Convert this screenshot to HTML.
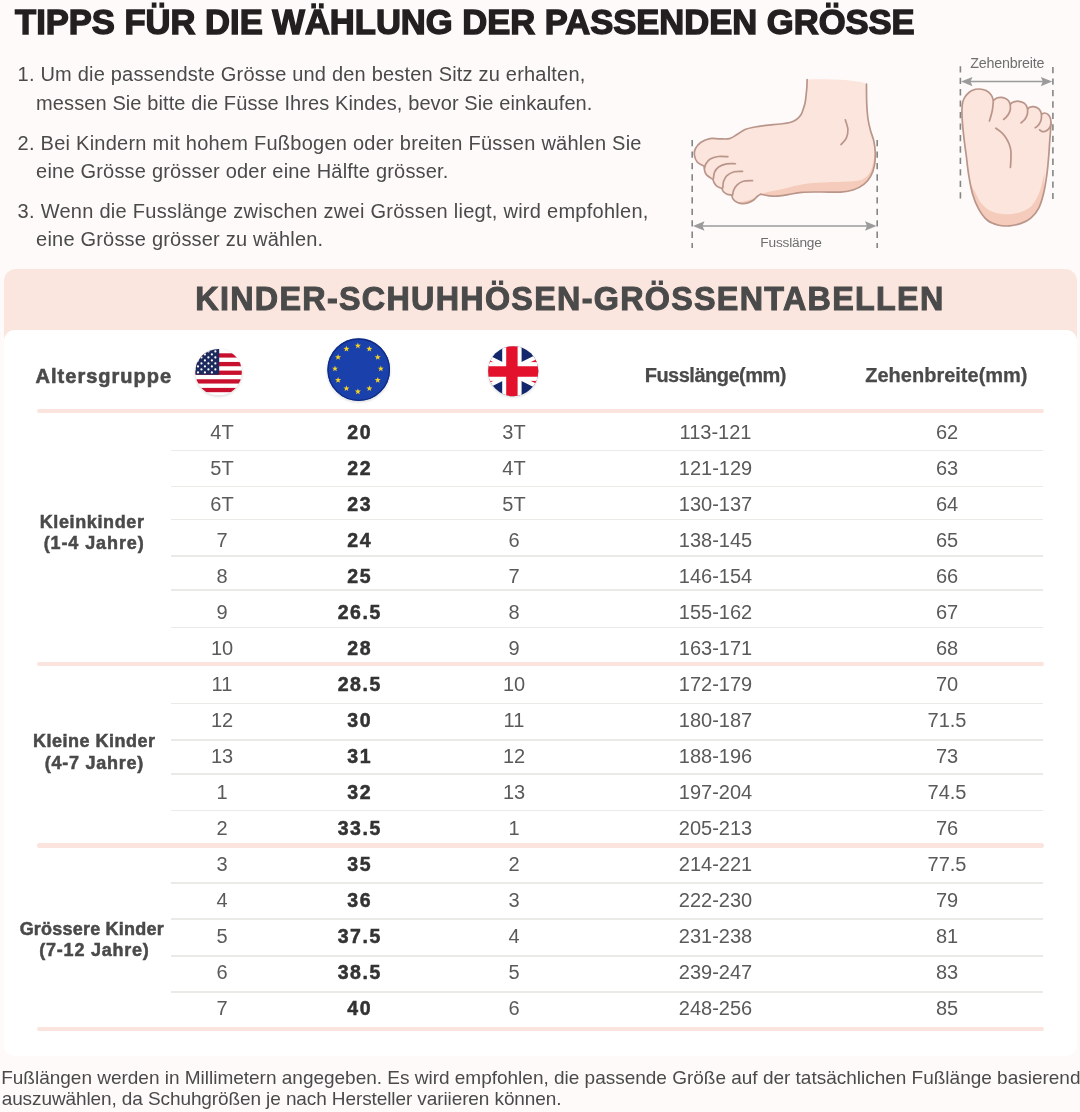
<!DOCTYPE html>
<html lang="de"><head><meta charset="utf-8"><title>Größentabelle</title>
<style>
html,body{margin:0;padding:0}
body{width:1080px;height:1112px;position:relative;overflow:hidden;background:#fdfaf9;font-family:"Liberation Sans",Arial,sans-serif}
.t{position:absolute;white-space:nowrap;line-height:1}
.band{position:absolute;left:4px;top:269px;width:1073px;height:90px;background:#fae6de;border-radius:12px 12px 0 0}
.card{position:absolute;left:4px;top:330px;width:1073px;height:726px;background:#fff;border-radius:11px 11px 10px 10px}
.sep{position:absolute;left:171px;width:872px;height:1.5px;background:#eaeae7}
.thk{position:absolute;left:37px;width:1007px;height:4.6px;background:#fbe4de;border-radius:3px}
svg{position:absolute;overflow:visible}
</style></head><body>
<div class="band"></div>
<div class="card"></div>
<div class="sep" style="top:449.65px"></div>
<div class="sep" style="top:485.55px"></div>
<div class="sep" style="top:518.55px"></div>
<div class="sep" style="top:555.05px"></div>
<div class="sep" style="top:589.05px"></div>
<div class="sep" style="top:626.55px"></div>
<div class="sep" style="top:702.75px"></div>
<div class="sep" style="top:739.45px"></div>
<div class="sep" style="top:773.05px"></div>
<div class="sep" style="top:809.55px"></div>
<div class="sep" style="top:882.15px"></div>
<div class="sep" style="top:918.45px"></div>
<div class="sep" style="top:955.25px"></div>
<div class="sep" style="top:991.05px"></div>
<div class="thk" style="top:408.75px"></div>
<div class="thk" style="top:661.55px"></div>
<div class="thk" style="top:843.35px"></div>
<div class="thk" style="top:1026.65px"></div>
<svg style="left:0;top:0" width="1080" height="270" viewBox="0 0 1080 270">
<defs><linearGradient id="ag" x1="0" y1="0" x2="0" y2="1"><stop offset="0" stop-color="#fdfaf9"/><stop offset="0.12" stop-color="#fbe5dc" stop-opacity="1"/></linearGradient><filter id="bl" x="-5%" y="-20%" width="110%" height="140%"><feGaussianBlur stdDeviation="0.6"/></filter></defs>
<path d="M807.10,79.60 C807.07,80.78 807.08,83.97 806.90,86.70 C806.72,89.43 806.32,93.23 806.00,96.00 C805.68,98.77 805.57,100.80 805.00,103.30 C804.43,105.80 803.30,109.05 802.60,111.00 C801.90,112.95 801.82,113.58 800.80,115.00 C799.78,116.42 798.30,118.25 796.50,119.50 C794.70,120.75 792.75,121.75 790.00,122.50 C787.25,123.25 784.00,123.52 780.00,124.00 C776.00,124.48 770.17,124.90 766.00,125.40 C761.83,125.90 758.50,126.32 755.00,127.00 C751.50,127.68 748.00,128.25 745.00,129.50 C742.00,130.75 739.58,132.98 737.00,134.50 C734.42,136.02 732.33,137.87 729.50,138.60 C726.67,139.33 723.25,138.90 720.00,138.90 C716.75,138.90 713.17,138.03 710.00,138.60 C706.83,139.17 703.42,140.65 701.00,142.30 C698.58,143.95 696.60,146.38 695.50,148.50 C694.40,150.62 694.12,152.75 694.40,155.00 C694.68,157.25 695.57,160.13 697.20,162.00 C698.83,163.87 703.03,165.50 704.20,166.20 C704.27,166.92 704.17,169.00 704.60,170.50 C705.03,172.00 705.42,173.72 706.80,175.20 C708.18,176.68 711.88,178.70 712.90,179.40 C713.18,180.08 713.83,182.30 714.60,183.50 C715.37,184.70 716.32,185.80 717.50,186.60 C718.68,187.40 721.00,188.02 721.70,188.30 C722.00,188.88 722.62,190.82 723.50,191.80 C724.38,192.78 725.63,193.67 727.00,194.20 C728.37,194.73 730.92,194.87 731.70,195.00 C731.95,195.70 732.23,197.97 733.20,199.20 C734.17,200.43 735.90,201.67 737.50,202.40 C739.10,203.13 740.97,203.57 742.80,203.60 C744.63,203.63 746.63,203.23 748.50,202.60 C750.37,201.97 752.55,200.82 754.00,199.80 C755.45,198.78 756.12,197.43 757.20,196.50 C758.28,195.57 759.95,194.58 760.50,194.20 C761.75,194.43 765.42,195.27 768.00,195.60 C770.58,195.93 772.67,196.37 776.00,196.20 C779.33,196.03 783.68,195.25 788.00,194.60 C792.32,193.95 796.35,192.73 801.90,192.30 C807.45,191.87 814.83,192.03 821.30,192.00 C827.77,191.97 835.30,192.47 840.70,192.10 C846.10,191.73 849.80,191.13 853.70,189.80 C857.60,188.47 861.28,186.35 864.10,184.10 C866.92,181.85 868.88,179.33 870.60,176.30 C872.32,173.27 873.62,169.78 874.40,165.90 C875.18,162.02 875.40,157.15 875.30,153.00 C875.20,148.85 874.60,144.75 873.80,141.00 C873.00,137.25 871.47,134.17 870.50,130.50 C869.53,126.83 868.62,123.25 868.00,119.00 C867.38,114.75 867.05,109.50 866.80,105.00 C866.55,100.50 866.55,95.47 866.50,92.00 C866.45,88.53 866.50,85.50 866.50,84.20 C866.5,82 840,78 807.1,79.6 Z" fill="#fbe5dc"/>
<path d="M760.50,194.00 C761.58,193.72 764.58,192.87 767.00,192.30 C769.42,191.73 771.35,191.42 775.00,190.60 C778.65,189.78 783.35,188.57 788.90,187.40 C794.45,186.23 801.82,184.45 808.30,183.60 C814.78,182.75 820.23,182.68 827.80,182.30 C835.37,181.92 847.65,181.92 853.70,181.30 C859.75,180.68 861.28,180.30 864.10,178.60 C866.92,176.90 869.02,174.20 870.60,171.10 C872.18,168.00 872.85,163.52 873.60,160.00 C874.35,156.48 874.85,151.67 875.10,150.00 C875.13,150.50 875.42,150.35 875.30,153.00 C875.18,155.65 875.18,162.02 874.40,165.90 C873.62,169.78 872.32,173.27 870.60,176.30 C868.88,179.33 866.92,181.85 864.10,184.10 C861.28,186.35 857.60,188.47 853.70,189.80 C849.80,191.13 846.10,191.73 840.70,192.10 C835.30,192.47 827.77,191.97 821.30,192.00 C814.83,192.03 807.45,191.87 801.90,192.30 C796.35,192.73 792.32,193.95 788.00,194.60 C783.68,195.25 779.33,196.03 776.00,196.20 C772.67,196.37 770.58,195.93 768.00,195.60 C765.42,195.27 761.75,194.43 760.50,194.20 Z" fill="#f5cbbb" filter="url(#bl)"/>
<path d="M738.00,202.60 C739.00,202.37 741.83,201.70 744.00,201.20 C746.17,200.70 748.75,200.47 751.00,199.60 C753.25,198.73 755.92,196.90 757.50,196.00 C759.08,195.10 760.00,194.50 760.50,194.20 C759.95,194.58 758.28,195.57 757.20,196.50 C756.12,197.43 755.45,198.78 754.00,199.80 C752.55,200.82 750.37,201.97 748.50,202.60 C746.63,203.23 744.55,203.60 742.80,203.60 C741.05,203.60 738.80,202.77 738.00,202.60 Z" fill="#f5cbbb" filter="url(#bl)"/>
<path d="M807.10,79.60 C807.07,80.78 807.08,83.97 806.90,86.70 C806.72,89.43 806.32,93.23 806.00,96.00 C805.68,98.77 805.57,100.80 805.00,103.30 C804.43,105.80 803.30,109.05 802.60,111.00 C801.90,112.95 801.82,113.58 800.80,115.00 C799.78,116.42 798.30,118.25 796.50,119.50 C794.70,120.75 792.75,121.75 790.00,122.50 C787.25,123.25 784.00,123.52 780.00,124.00 C776.00,124.48 770.17,124.90 766.00,125.40 C761.83,125.90 758.50,126.32 755.00,127.00 C751.50,127.68 748.00,128.25 745.00,129.50 C742.00,130.75 739.58,132.98 737.00,134.50 C734.42,136.02 732.33,137.87 729.50,138.60 C726.67,139.33 723.25,138.90 720.00,138.90 C716.75,138.90 713.17,138.03 710.00,138.60 C706.83,139.17 703.42,140.65 701.00,142.30 C698.58,143.95 696.60,146.38 695.50,148.50 C694.40,150.62 694.12,152.75 694.40,155.00 C694.68,157.25 695.57,160.13 697.20,162.00 C698.83,163.87 703.03,165.50 704.20,166.20 C704.27,166.92 704.17,169.00 704.60,170.50 C705.03,172.00 705.42,173.72 706.80,175.20 C708.18,176.68 711.88,178.70 712.90,179.40 C713.18,180.08 713.83,182.30 714.60,183.50 C715.37,184.70 716.32,185.80 717.50,186.60 C718.68,187.40 721.00,188.02 721.70,188.30 C722.00,188.88 722.62,190.82 723.50,191.80 C724.38,192.78 725.63,193.67 727.00,194.20 C728.37,194.73 730.92,194.87 731.70,195.00 C731.95,195.70 732.23,197.97 733.20,199.20 C734.17,200.43 735.90,201.67 737.50,202.40 C739.10,203.13 740.97,203.57 742.80,203.60 C744.63,203.63 746.63,203.23 748.50,202.60 C750.37,201.97 752.55,200.82 754.00,199.80 C755.45,198.78 756.12,197.43 757.20,196.50 C758.28,195.57 759.95,194.58 760.50,194.20 C761.75,194.43 765.42,195.27 768.00,195.60 C770.58,195.93 772.67,196.37 776.00,196.20 C779.33,196.03 783.68,195.25 788.00,194.60 C792.32,193.95 796.35,192.73 801.90,192.30 C807.45,191.87 814.83,192.03 821.30,192.00 C827.77,191.97 835.30,192.47 840.70,192.10 C846.10,191.73 849.80,191.13 853.70,189.80 C857.60,188.47 861.28,186.35 864.10,184.10 C866.92,181.85 868.88,179.33 870.60,176.30 C872.32,173.27 873.62,169.78 874.40,165.90 C875.18,162.02 875.40,157.15 875.30,153.00 C875.20,148.85 874.60,144.75 873.80,141.00 C873.00,137.25 871.47,134.17 870.50,130.50 C869.53,126.83 868.62,123.25 868.00,119.00 C867.38,114.75 867.05,109.50 866.80,105.00 C866.55,100.50 866.55,95.47 866.50,92.00 C866.45,88.53 866.50,85.50 866.50,84.20" fill="none" stroke="#b9958a" stroke-width="1.7" stroke-linecap="round" stroke-linejoin="round"/>
<path d="M727.90,156.70 C726.30,156.67 721.25,156.12 718.30,156.50 C715.35,156.88 712.28,157.75 710.20,159.00 C708.12,160.25 706.73,162.50 705.80,164.00 C704.87,165.50 704.80,167.33 704.60,168.00" fill="none" stroke="#b9958a" stroke-width="1.7" stroke-linecap="round"/>
<path d="M735.40,163.75 C733.95,163.78 729.50,163.36 726.70,163.90 C723.90,164.44 720.62,165.62 718.60,167.00 C716.58,168.38 715.47,170.28 714.60,172.20 C713.73,174.12 713.60,177.45 713.40,178.50" fill="none" stroke="#b9958a" stroke-width="1.7" stroke-linecap="round"/>
<path d="M742.50,171.30 C741.12,171.38 736.80,171.08 734.20,171.80 C731.60,172.52 728.67,174.02 726.90,175.60 C725.13,177.18 724.28,179.23 723.60,181.30 C722.92,183.37 722.93,186.88 722.80,188.00" fill="none" stroke="#b9958a" stroke-width="1.7" stroke-linecap="round"/>
<path d="M752.50,180.60 C750.97,180.70 745.90,180.45 743.30,181.20 C740.70,181.95 738.52,183.58 736.90,185.10 C735.28,186.62 734.32,188.62 733.60,190.30 C732.88,191.98 732.77,194.38 732.60,195.20" fill="none" stroke="#b9958a" stroke-width="1.7" stroke-linecap="round"/>
<path d="M845.30,119.80 C845.73,121.38 847.73,126.23 847.90,129.30 C848.07,132.37 847.45,135.67 846.30,138.20 C845.15,140.73 841.88,143.45 841.00,144.50" fill="none" stroke="#b9958a" stroke-width="1.7" stroke-linecap="round"/>
<path d="M692.2,140 V248 M877.2,140 V248" stroke="#858585" stroke-width="1.6" stroke-dasharray="6.3 5.15"/>
<path d="M698,226 H871" stroke="#9b9b9b" stroke-width="1.5"/>
<path d="M693,226 L704.5,221.3 L702.5,226 L704.5,230.7 Z M876.5,226 L865,221.3 L867,226 L865,230.7 Z" fill="#9b9b9b"/>
<text x="791" y="247" font-family="Liberation Sans, Arial, sans-serif" font-size="13.7" letter-spacing="-0.2" fill="#6e6e6e" text-anchor="middle">Fusslänge</text>
<path d="M993.40,100.50 C993.03,99.58 992.43,96.65 991.20,95.00 C989.97,93.35 987.98,91.60 986.00,90.60 C984.02,89.60 981.55,89.05 979.30,89.00 C977.05,88.95 974.52,89.43 972.50,90.30 C970.48,91.17 968.68,92.67 967.20,94.20 C965.72,95.73 964.42,97.78 963.60,99.50 C962.78,101.22 962.52,103.67 962.30,104.50 C962.23,105.62 961.90,108.47 961.90,111.20 C961.90,113.93 962.07,117.43 962.30,120.90 C962.53,124.37 962.88,127.98 963.30,132.00 C963.72,136.02 964.32,141.17 964.80,145.00 C965.28,148.83 965.57,150.12 966.20,155.00 C966.83,159.88 967.55,167.85 968.60,174.30 C969.65,180.75 970.88,188.03 972.50,193.70 C974.12,199.37 975.87,203.92 978.30,208.30 C980.73,212.68 983.70,217.17 987.10,220.00 C990.50,222.83 994.98,224.33 998.70,225.30 C1002.42,226.27 1005.67,226.12 1009.40,225.80 C1013.13,225.48 1017.53,224.68 1021.10,223.40 C1024.67,222.12 1027.88,220.62 1030.80,218.10 C1033.72,215.58 1036.48,212.37 1038.60,208.30 C1040.72,204.23 1042.12,199.37 1043.50,193.70 C1044.88,188.03 1046.02,180.77 1046.90,174.30 C1047.78,167.83 1048.32,160.62 1048.80,154.90 C1049.28,149.18 1049.50,144.15 1049.80,140.00 C1050.10,135.85 1050.40,132.83 1050.60,130.00 C1050.80,127.17 1050.93,124.17 1051.00,123.00 C1050.90,122.20 1050.92,119.65 1050.40,118.20 C1049.88,116.75 1048.90,115.17 1047.90,114.30 C1046.90,113.43 1045.47,113.02 1044.40,113.00 C1043.33,112.98 1041.98,114.00 1041.50,114.20 C1041.32,113.67 1041.05,112.03 1040.40,111.00 C1039.75,109.97 1038.73,108.72 1037.60,108.00 C1036.47,107.28 1034.90,106.82 1033.60,106.70 C1032.30,106.58 1030.80,106.92 1029.80,107.30 C1028.80,107.68 1027.97,108.72 1027.60,109.00 C1027.35,108.37 1026.87,106.27 1026.10,105.20 C1025.33,104.13 1024.18,103.25 1023.00,102.60 C1021.82,101.95 1020.37,101.47 1019.00,101.30 C1017.63,101.13 1016.10,101.28 1014.80,101.60 C1013.50,101.92 1011.95,102.67 1011.20,103.20 C1010.45,103.73 1010.45,104.53 1010.30,104.80 C1010.00,104.13 1009.38,101.90 1008.50,100.80 C1007.62,99.70 1006.28,98.78 1005.00,98.20 C1003.72,97.62 1002.17,97.33 1000.80,97.30 C999.43,97.27 998.03,97.47 996.80,98.00 C995.57,98.53 993.97,100.08 993.40,100.50 Z" fill="#fbe5dc"/>
<path d="M968.00,172.00 C968.50,174.00 969.93,180.87 971.00,184.00 C972.07,187.13 972.53,187.40 974.40,190.80 C976.27,194.20 978.95,200.83 982.20,204.40 C985.45,207.97 989.37,210.57 993.90,212.20 C998.43,213.83 1004.55,214.37 1009.40,214.20 C1014.25,214.03 1019.10,212.83 1023.00,211.20 C1026.90,209.57 1030.03,207.63 1032.80,204.40 C1035.57,201.17 1037.98,195.68 1039.60,191.80 C1041.22,187.92 1041.68,184.40 1042.50,181.10 C1043.32,177.80 1044.17,173.52 1044.50,172.00 C1044.33,175.62 1044.48,187.65 1043.50,193.70 C1042.52,199.75 1040.72,204.23 1038.60,208.30 C1036.48,212.37 1033.72,215.58 1030.80,218.10 C1027.88,220.62 1024.67,222.12 1021.10,223.40 C1017.53,224.68 1013.13,225.48 1009.40,225.80 C1005.67,226.12 1002.42,226.27 998.70,225.30 C994.98,224.33 990.50,222.83 987.10,220.00 C983.70,217.17 980.73,212.68 978.30,208.30 C975.87,203.92 974.22,199.75 972.50,193.70 C970.78,187.65 968.75,175.62 968.00,172.00 Z" fill="#f5cbbb" filter="url(#bl)"/>
<path d="M993.40,100.50 C993.03,99.58 992.43,96.65 991.20,95.00 C989.97,93.35 987.98,91.60 986.00,90.60 C984.02,89.60 981.55,89.05 979.30,89.00 C977.05,88.95 974.52,89.43 972.50,90.30 C970.48,91.17 968.68,92.67 967.20,94.20 C965.72,95.73 964.42,97.78 963.60,99.50 C962.78,101.22 962.52,103.67 962.30,104.50 C962.23,105.62 961.90,108.47 961.90,111.20 C961.90,113.93 962.07,117.43 962.30,120.90 C962.53,124.37 962.88,127.98 963.30,132.00 C963.72,136.02 964.32,141.17 964.80,145.00 C965.28,148.83 965.57,150.12 966.20,155.00 C966.83,159.88 967.55,167.85 968.60,174.30 C969.65,180.75 970.88,188.03 972.50,193.70 C974.12,199.37 975.87,203.92 978.30,208.30 C980.73,212.68 983.70,217.17 987.10,220.00 C990.50,222.83 994.98,224.33 998.70,225.30 C1002.42,226.27 1005.67,226.12 1009.40,225.80 C1013.13,225.48 1017.53,224.68 1021.10,223.40 C1024.67,222.12 1027.88,220.62 1030.80,218.10 C1033.72,215.58 1036.48,212.37 1038.60,208.30 C1040.72,204.23 1042.12,199.37 1043.50,193.70 C1044.88,188.03 1046.02,180.77 1046.90,174.30 C1047.78,167.83 1048.32,160.62 1048.80,154.90 C1049.28,149.18 1049.50,144.15 1049.80,140.00 C1050.10,135.85 1050.40,132.83 1050.60,130.00 C1050.80,127.17 1050.93,124.17 1051.00,123.00 C1050.90,122.20 1050.92,119.65 1050.40,118.20 C1049.88,116.75 1048.90,115.17 1047.90,114.30 C1046.90,113.43 1045.47,113.02 1044.40,113.00 C1043.33,112.98 1041.98,114.00 1041.50,114.20 C1041.32,113.67 1041.05,112.03 1040.40,111.00 C1039.75,109.97 1038.73,108.72 1037.60,108.00 C1036.47,107.28 1034.90,106.82 1033.60,106.70 C1032.30,106.58 1030.80,106.92 1029.80,107.30 C1028.80,107.68 1027.97,108.72 1027.60,109.00 C1027.35,108.37 1026.87,106.27 1026.10,105.20 C1025.33,104.13 1024.18,103.25 1023.00,102.60 C1021.82,101.95 1020.37,101.47 1019.00,101.30 C1017.63,101.13 1016.10,101.28 1014.80,101.60 C1013.50,101.92 1011.95,102.67 1011.20,103.20 C1010.45,103.73 1010.45,104.53 1010.30,104.80 C1010.00,104.13 1009.38,101.90 1008.50,100.80 C1007.62,99.70 1006.28,98.78 1005.00,98.20 C1003.72,97.62 1002.17,97.33 1000.80,97.30 C999.43,97.27 998.03,97.47 996.80,98.00 C995.57,98.53 993.97,100.08 993.40,100.50 Z" fill="none" stroke="#b9958a" stroke-width="1.7" stroke-linejoin="round"/>
<path d="M993.40,100.50 C993.33,101.25 993.18,103.33 993.00,105.00 C992.82,106.67 992.67,108.58 992.30,110.50 C991.93,112.42 991.28,114.75 990.80,116.50 C990.32,118.25 989.63,120.25 989.40,121.00" fill="none" stroke="#b9958a" stroke-width="1.7" stroke-linecap="round"/>
<path d="M1010.30,104.80 C1010.30,105.58 1010.58,107.97 1010.30,109.50 C1010.02,111.03 1009.32,112.70 1008.60,114.00 C1007.88,115.30 1006.83,116.40 1006.00,117.30 C1005.17,118.20 1004.00,119.05 1003.60,119.40" fill="none" stroke="#b9958a" stroke-width="1.7" stroke-linecap="round"/>
<path d="M1027.60,109.00 C1027.57,109.83 1027.77,112.42 1027.40,114.00 C1027.03,115.58 1026.13,117.30 1025.40,118.50 C1024.67,119.70 1023.73,120.47 1023.00,121.20 C1022.27,121.93 1021.33,122.62 1021.00,122.90" fill="none" stroke="#b9958a" stroke-width="1.7" stroke-linecap="round"/>
<path d="M1041.50,114.20 C1041.45,115.08 1041.55,117.90 1041.20,119.50 C1040.85,121.10 1040.07,122.67 1039.40,123.80 C1038.73,124.93 1037.90,125.65 1037.20,126.30 C1036.50,126.95 1035.53,127.47 1035.20,127.70" fill="none" stroke="#b9958a" stroke-width="1.7" stroke-linecap="round"/>
<path d="M1051.00,123.00 C1050.83,123.67 1050.58,125.83 1050.00,127.00 C1049.42,128.17 1048.45,129.23 1047.50,130.00 C1046.55,130.77 1045.25,131.37 1044.30,131.60 C1043.35,131.83 1042.58,131.70 1041.80,131.40 C1041.02,131.10 1039.97,130.07 1039.60,129.80" fill="none" stroke="#b9958a" stroke-width="1.7" stroke-linecap="round"/>
<path d="M995.80,128.20 C996.78,128.93 999.97,130.93 1001.70,132.60 C1003.43,134.27 1004.93,136.22 1006.20,138.20 C1007.47,140.18 1008.52,142.37 1009.30,144.50 C1010.08,146.63 1010.63,148.42 1010.90,151.00 C1011.17,153.58 1010.98,157.25 1010.90,160.00 C1010.82,162.75 1010.48,166.25 1010.40,167.50" fill="none" stroke="#b9958a" stroke-width="1.7" stroke-linecap="round"/>
<path d="M960.4,66.2 V199 M1052.9,67 V199" stroke="#858585" stroke-width="1.6" stroke-dasharray="6.3 5.15"/>
<path d="M966,81.6 H1047" stroke="#9b9b9b" stroke-width="1.5"/>
<path d="M961,81.6 L972.5,76.9 L970.5,81.6 L972.5,86.3 Z M1052.3,81.6 L1040.8,76.9 L1042.8,81.6 L1040.8,86.3 Z" fill="#9b9b9b"/>
<text x="1007.3" y="67.6" font-family="Liberation Sans, Arial, sans-serif" font-size="14.3" letter-spacing="-0.2" fill="#6e6e6e" text-anchor="middle">Zehenbreite</text>
</svg>
<svg style="left:0;top:0" width="1080" height="1112" viewBox="0 0 1080 1112">
<defs>
<clipPath id="cu"><circle cx="218.6" cy="372.2" r="23.3"/></clipPath>
<clipPath id="ck"><circle cx="513.2" cy="371.1" r="25.1"/></clipPath>
<filter id="sh" x="-20%" y="-20%" width="140%" height="140%"><feGaussianBlur stdDeviation="1.2"/></filter>
</defs>
<circle cx="218.6" cy="373.2" r="23.900000000000002" fill="#000" opacity="0.12" filter="url(#sh)"/>
<g clip-path="url(#cu)">
<rect x="195.29999999999998" y="348.9" width="46.6" height="46.6" fill="#fff"/>
<rect x="195.29999999999998" y="353.30" width="46.6" height="4.3" fill="#c8102e"/>
<rect x="195.29999999999998" y="361.95" width="46.6" height="4.3" fill="#c8102e"/>
<rect x="195.29999999999998" y="370.60" width="46.6" height="4.3" fill="#c8102e"/>
<rect x="195.29999999999998" y="379.25" width="46.6" height="4.3" fill="#c8102e"/>
<rect x="195.29999999999998" y="387.90" width="46.6" height="4.3" fill="#c8102e"/>
<rect x="195.29999999999998" y="396.55" width="46.6" height="4.3" fill="#c8102e"/>
<rect x="195.29999999999998" y="348.9" width="23.90" height="25.80" fill="#1c2a5e"/>
<circle cx="197.97" cy="348.40" r="1.1" fill="#fff"/>
<circle cx="204.92" cy="348.40" r="1.1" fill="#fff"/>
<circle cx="211.88" cy="348.40" r="1.1" fill="#fff"/>
<circle cx="194.50" cy="351.40" r="1.1" fill="#fff"/>
<circle cx="201.45" cy="351.40" r="1.1" fill="#fff"/>
<circle cx="208.40" cy="351.40" r="1.1" fill="#fff"/>
<circle cx="215.35" cy="351.40" r="1.1" fill="#fff"/>
<circle cx="197.97" cy="354.40" r="1.1" fill="#fff"/>
<circle cx="204.92" cy="354.40" r="1.1" fill="#fff"/>
<circle cx="211.88" cy="354.40" r="1.1" fill="#fff"/>
<circle cx="194.50" cy="357.40" r="1.1" fill="#fff"/>
<circle cx="201.45" cy="357.40" r="1.1" fill="#fff"/>
<circle cx="208.40" cy="357.40" r="1.1" fill="#fff"/>
<circle cx="215.35" cy="357.40" r="1.1" fill="#fff"/>
<circle cx="197.97" cy="360.40" r="1.1" fill="#fff"/>
<circle cx="204.92" cy="360.40" r="1.1" fill="#fff"/>
<circle cx="211.88" cy="360.40" r="1.1" fill="#fff"/>
<circle cx="194.50" cy="363.40" r="1.1" fill="#fff"/>
<circle cx="201.45" cy="363.40" r="1.1" fill="#fff"/>
<circle cx="208.40" cy="363.40" r="1.1" fill="#fff"/>
<circle cx="215.35" cy="363.40" r="1.1" fill="#fff"/>
<circle cx="197.97" cy="366.40" r="1.1" fill="#fff"/>
<circle cx="204.92" cy="366.40" r="1.1" fill="#fff"/>
<circle cx="211.88" cy="366.40" r="1.1" fill="#fff"/>
<circle cx="194.50" cy="369.40" r="1.1" fill="#fff"/>
<circle cx="201.45" cy="369.40" r="1.1" fill="#fff"/>
<circle cx="208.40" cy="369.40" r="1.1" fill="#fff"/>
<circle cx="215.35" cy="369.40" r="1.1" fill="#fff"/>
<circle cx="197.97" cy="372.40" r="1.1" fill="#fff"/>
<circle cx="204.92" cy="372.40" r="1.1" fill="#fff"/>
<circle cx="211.88" cy="372.40" r="1.1" fill="#fff"/>
</g>
<circle cx="358.7" cy="370.7" r="31.900000000000002" fill="#000" opacity="0.12" filter="url(#sh)"/>
<circle cx="358.7" cy="369.7" r="31.3" fill="#1a40ac"/>
<circle cx="358.7" cy="369.7" r="30.7" fill="none" stroke="#0f2c85" stroke-width="1.3"/>
<polygon points="357.90,342.60 358.65,344.76 360.94,344.81 359.12,346.20 359.78,348.39 357.90,347.08 356.02,348.39 356.68,346.20 354.86,344.81 357.15,344.76" fill="#f6d323"/>
<polygon points="369.35,345.67 370.10,347.83 372.39,347.88 370.57,349.26 371.23,351.46 369.35,350.15 367.47,351.46 368.13,349.26 366.31,347.88 368.60,347.83" fill="#f6d323"/>
<polygon points="377.73,354.05 378.48,356.21 380.78,356.26 378.95,357.65 379.61,359.84 377.73,358.53 375.85,359.84 376.51,357.65 374.69,356.26 376.98,356.21" fill="#f6d323"/>
<polygon points="380.80,365.50 381.55,367.66 383.84,367.71 382.02,369.10 382.68,371.29 380.80,369.98 378.92,371.29 379.58,369.10 377.76,367.71 380.05,367.66" fill="#f6d323"/>
<polygon points="377.73,376.95 378.48,379.11 380.78,379.16 378.95,380.55 379.61,382.74 377.73,381.43 375.85,382.74 376.51,380.55 374.69,379.16 376.98,379.11" fill="#f6d323"/>
<polygon points="369.35,385.33 370.10,387.50 372.39,387.54 370.57,388.93 371.23,391.12 369.35,389.81 367.47,391.12 368.13,388.93 366.31,387.54 368.60,387.50" fill="#f6d323"/>
<polygon points="357.90,388.40 358.65,390.56 360.94,390.61 359.12,392.00 359.78,394.19 357.90,392.88 356.02,394.19 356.68,392.00 354.86,390.61 357.15,390.56" fill="#f6d323"/>
<polygon points="346.45,385.33 347.20,387.50 349.49,387.54 347.67,388.93 348.33,391.12 346.45,389.81 344.57,391.12 345.23,388.93 343.41,387.54 345.70,387.50" fill="#f6d323"/>
<polygon points="338.07,376.95 338.82,379.11 341.11,379.16 339.29,380.55 339.95,382.74 338.07,381.43 336.19,382.74 336.85,380.55 335.02,379.16 337.32,379.11" fill="#f6d323"/>
<polygon points="335.00,365.50 335.75,367.66 338.04,367.71 336.22,369.10 336.88,371.29 335.00,369.98 333.12,371.29 333.78,369.10 331.96,367.71 334.25,367.66" fill="#f6d323"/>
<polygon points="338.07,354.05 338.82,356.21 341.11,356.26 339.29,357.65 339.95,359.84 338.07,358.53 336.19,359.84 336.85,357.65 335.02,356.26 337.32,356.21" fill="#f6d323"/>
<polygon points="346.45,345.67 347.20,347.83 349.49,347.88 347.67,349.26 348.33,351.46 346.45,350.15 344.57,351.46 345.23,349.26 343.41,347.88 345.70,347.83" fill="#f6d323"/>
<circle cx="513.2" cy="372.1" r="25.700000000000003" fill="#000" opacity="0.10" filter="url(#sh)"/>
<g clip-path="url(#ck)">
<rect x="461.4" y="346.25" width="101" height="50.5" fill="#13286c"/>
<path d="M461.4,346.25 L562.4,396.75 M562.4,346.25 L461.4,396.75" stroke="#fff" stroke-width="8.6"/>
<path d="M460.68,347.68 L511.18,372.93" stroke="#e3112c" stroke-width="3.2"/>
<path d="M512.62,370.07 L563.12,395.32" stroke="#e3112c" stroke-width="3.2"/>
<path d="M563.12,347.68 L512.62,372.93" stroke="#e3112c" stroke-width="3.2"/>
<path d="M511.18,370.07 L460.68,395.32" stroke="#e3112c" stroke-width="3.2"/>
<rect x="461.4" y="362.1" width="101" height="18.8" fill="#fff"/>
<rect x="502.2" y="346.25" width="19.4" height="50.5" fill="#fff"/>
<rect x="461.4" y="366.25" width="101" height="10.5" fill="#e3112c"/>
<rect x="506.2" y="346.25" width="11.4" height="50.5" fill="#e3112c"/>
</g>
</svg>
<div class="t" style="top:5.01px;font-size:34.6px;color:#231f20;font-weight:bold;letter-spacing:-0.02px;-webkit-text-stroke:1.4px #231f20;left:15.10px;">TIPPS FÜR DIE WÄHLUNG DER PASSENDEN GRÖSSE</div>
<div class="t" style="top:63.97px;font-size:20px;color:#4a4a4a;font-weight:normal;letter-spacing:0.2px;left:17.60px;">1. Um die passendste Grösse und den besten Sitz zu erhalten,</div>
<div class="t" style="top:92.67px;font-size:20px;color:#4a4a4a;font-weight:normal;letter-spacing:0.1px;left:36.10px;">messen Sie bitte die Füsse Ihres Kindes, bevor Sie einkaufen.</div>
<div class="t" style="top:132.87px;font-size:20px;color:#4a4a4a;font-weight:normal;letter-spacing:0.25px;left:17.60px;">2. Bei Kindern mit hohem Fußbogen oder breiten Füssen wählen Sie</div>
<div class="t" style="top:161.17px;font-size:20px;color:#4a4a4a;font-weight:normal;letter-spacing:0.2px;left:36.10px;">eine Grösse grösser oder eine Hälfte grösser.</div>
<div class="t" style="top:200.67px;font-size:20px;color:#4a4a4a;font-weight:normal;letter-spacing:0.27px;left:17.60px;">3. Wenn die Fusslänge zwischen zwei Grössen liegt, wird empfohlen,</div>
<div class="t" style="top:228.77px;font-size:20px;color:#4a4a4a;font-weight:normal;letter-spacing:0.2px;left:36.10px;">eine Grösse grösser zu wählen.</div>
<div class="t" style="top:283.26px;font-size:32.3px;color:#4a4a4a;font-weight:bold;letter-spacing:1.3px;-webkit-text-stroke:1.0px #4a4a4a;left:119.95px;width:900px;text-align:center;">KINDER-SCHUHHÖSEN-GRÖSSENTABELLEN</div>
<div class="t" style="top:365.97px;font-size:20px;color:#4a4a4a;font-weight:bold;letter-spacing:1.0px;-webkit-text-stroke:0.6px #4a4a4a;left:35.60px;">Altersgruppe</div>
<div class="t" style="top:364.97px;font-size:20px;color:#4a4a4a;font-weight:bold;letter-spacing:-0.5px;-webkit-text-stroke:0.25px #4a4a4a;left:565.35px;width:300px;text-align:center;">Fusslänge(mm)</div>
<div class="t" style="top:364.97px;font-size:20px;color:#4a4a4a;font-weight:bold;-webkit-text-stroke:0.25px #4a4a4a;left:796.40px;width:300px;text-align:center;">Zehenbreite(mm)</div>
<div class="t" style="top:422.47px;font-size:20px;color:#5a5a5a;font-weight:normal;left:142.00px;width:160px;text-align:center;">4T</div>
<div class="t" style="top:422.89px;font-size:19.5px;color:#333;font-weight:bold;letter-spacing:1.55px;-webkit-text-stroke:0.5px #333;left:299.77px;width:120px;text-align:center;">20</div>
<div class="t" style="top:422.47px;font-size:20px;color:#5a5a5a;font-weight:normal;left:434.00px;width:160px;text-align:center;">3T</div>
<div class="t" style="top:422.47px;font-size:20px;color:#5a5a5a;font-weight:normal;left:635.50px;width:160px;text-align:center;">113-121</div>
<div class="t" style="top:422.47px;font-size:20px;color:#5a5a5a;font-weight:normal;left:867.00px;width:160px;text-align:center;">62</div>
<div class="t" style="top:458.47px;font-size:20px;color:#5a5a5a;font-weight:normal;left:142.00px;width:160px;text-align:center;">5T</div>
<div class="t" style="top:458.89px;font-size:19.5px;color:#333;font-weight:bold;letter-spacing:1.55px;-webkit-text-stroke:0.5px #333;left:299.77px;width:120px;text-align:center;">22</div>
<div class="t" style="top:458.47px;font-size:20px;color:#5a5a5a;font-weight:normal;left:434.00px;width:160px;text-align:center;">4T</div>
<div class="t" style="top:458.47px;font-size:20px;color:#5a5a5a;font-weight:normal;left:635.50px;width:160px;text-align:center;">121-129</div>
<div class="t" style="top:458.47px;font-size:20px;color:#5a5a5a;font-weight:normal;left:867.00px;width:160px;text-align:center;">63</div>
<div class="t" style="top:494.47px;font-size:20px;color:#5a5a5a;font-weight:normal;left:142.00px;width:160px;text-align:center;">6T</div>
<div class="t" style="top:494.89px;font-size:19.5px;color:#333;font-weight:bold;letter-spacing:1.55px;-webkit-text-stroke:0.5px #333;left:299.77px;width:120px;text-align:center;">23</div>
<div class="t" style="top:494.47px;font-size:20px;color:#5a5a5a;font-weight:normal;left:434.00px;width:160px;text-align:center;">5T</div>
<div class="t" style="top:494.47px;font-size:20px;color:#5a5a5a;font-weight:normal;left:635.50px;width:160px;text-align:center;">130-137</div>
<div class="t" style="top:494.47px;font-size:20px;color:#5a5a5a;font-weight:normal;left:867.00px;width:160px;text-align:center;">64</div>
<div class="t" style="top:530.47px;font-size:20px;color:#5a5a5a;font-weight:normal;left:142.00px;width:160px;text-align:center;">7</div>
<div class="t" style="top:530.89px;font-size:19.5px;color:#333;font-weight:bold;letter-spacing:1.55px;-webkit-text-stroke:0.5px #333;left:299.77px;width:120px;text-align:center;">24</div>
<div class="t" style="top:530.47px;font-size:20px;color:#5a5a5a;font-weight:normal;left:434.00px;width:160px;text-align:center;">6</div>
<div class="t" style="top:530.47px;font-size:20px;color:#5a5a5a;font-weight:normal;left:635.50px;width:160px;text-align:center;">138-145</div>
<div class="t" style="top:530.47px;font-size:20px;color:#5a5a5a;font-weight:normal;left:867.00px;width:160px;text-align:center;">65</div>
<div class="t" style="top:566.47px;font-size:20px;color:#5a5a5a;font-weight:normal;left:142.00px;width:160px;text-align:center;">8</div>
<div class="t" style="top:566.89px;font-size:19.5px;color:#333;font-weight:bold;letter-spacing:1.55px;-webkit-text-stroke:0.5px #333;left:299.77px;width:120px;text-align:center;">25</div>
<div class="t" style="top:566.47px;font-size:20px;color:#5a5a5a;font-weight:normal;left:434.00px;width:160px;text-align:center;">7</div>
<div class="t" style="top:566.47px;font-size:20px;color:#5a5a5a;font-weight:normal;left:635.50px;width:160px;text-align:center;">146-154</div>
<div class="t" style="top:566.47px;font-size:20px;color:#5a5a5a;font-weight:normal;left:867.00px;width:160px;text-align:center;">66</div>
<div class="t" style="top:602.47px;font-size:20px;color:#5a5a5a;font-weight:normal;left:142.00px;width:160px;text-align:center;">9</div>
<div class="t" style="top:602.89px;font-size:19.5px;color:#333;font-weight:bold;letter-spacing:1.55px;-webkit-text-stroke:0.5px #333;left:299.77px;width:120px;text-align:center;">26.5</div>
<div class="t" style="top:602.47px;font-size:20px;color:#5a5a5a;font-weight:normal;left:434.00px;width:160px;text-align:center;">8</div>
<div class="t" style="top:602.47px;font-size:20px;color:#5a5a5a;font-weight:normal;left:635.50px;width:160px;text-align:center;">155-162</div>
<div class="t" style="top:602.47px;font-size:20px;color:#5a5a5a;font-weight:normal;left:867.00px;width:160px;text-align:center;">67</div>
<div class="t" style="top:638.47px;font-size:20px;color:#5a5a5a;font-weight:normal;left:142.00px;width:160px;text-align:center;">10</div>
<div class="t" style="top:638.89px;font-size:19.5px;color:#333;font-weight:bold;letter-spacing:1.55px;-webkit-text-stroke:0.5px #333;left:299.77px;width:120px;text-align:center;">28</div>
<div class="t" style="top:638.47px;font-size:20px;color:#5a5a5a;font-weight:normal;left:434.00px;width:160px;text-align:center;">9</div>
<div class="t" style="top:638.47px;font-size:20px;color:#5a5a5a;font-weight:normal;left:635.50px;width:160px;text-align:center;">163-171</div>
<div class="t" style="top:638.47px;font-size:20px;color:#5a5a5a;font-weight:normal;left:867.00px;width:160px;text-align:center;">68</div>
<div class="t" style="top:674.47px;font-size:20px;color:#5a5a5a;font-weight:normal;left:142.00px;width:160px;text-align:center;">11</div>
<div class="t" style="top:674.89px;font-size:19.5px;color:#333;font-weight:bold;letter-spacing:1.55px;-webkit-text-stroke:0.5px #333;left:299.77px;width:120px;text-align:center;">28.5</div>
<div class="t" style="top:674.47px;font-size:20px;color:#5a5a5a;font-weight:normal;left:434.00px;width:160px;text-align:center;">10</div>
<div class="t" style="top:674.47px;font-size:20px;color:#5a5a5a;font-weight:normal;left:635.50px;width:160px;text-align:center;">172-179</div>
<div class="t" style="top:674.47px;font-size:20px;color:#5a5a5a;font-weight:normal;left:867.00px;width:160px;text-align:center;">70</div>
<div class="t" style="top:710.47px;font-size:20px;color:#5a5a5a;font-weight:normal;left:142.00px;width:160px;text-align:center;">12</div>
<div class="t" style="top:710.89px;font-size:19.5px;color:#333;font-weight:bold;letter-spacing:1.55px;-webkit-text-stroke:0.5px #333;left:299.77px;width:120px;text-align:center;">30</div>
<div class="t" style="top:710.47px;font-size:20px;color:#5a5a5a;font-weight:normal;left:434.00px;width:160px;text-align:center;">11</div>
<div class="t" style="top:710.47px;font-size:20px;color:#5a5a5a;font-weight:normal;left:635.50px;width:160px;text-align:center;">180-187</div>
<div class="t" style="top:710.47px;font-size:20px;color:#5a5a5a;font-weight:normal;left:867.00px;width:160px;text-align:center;">71.5</div>
<div class="t" style="top:746.47px;font-size:20px;color:#5a5a5a;font-weight:normal;left:142.00px;width:160px;text-align:center;">13</div>
<div class="t" style="top:746.89px;font-size:19.5px;color:#333;font-weight:bold;letter-spacing:1.55px;-webkit-text-stroke:0.5px #333;left:299.77px;width:120px;text-align:center;">31</div>
<div class="t" style="top:746.47px;font-size:20px;color:#5a5a5a;font-weight:normal;left:434.00px;width:160px;text-align:center;">12</div>
<div class="t" style="top:746.47px;font-size:20px;color:#5a5a5a;font-weight:normal;left:635.50px;width:160px;text-align:center;">188-196</div>
<div class="t" style="top:746.47px;font-size:20px;color:#5a5a5a;font-weight:normal;left:867.00px;width:160px;text-align:center;">73</div>
<div class="t" style="top:782.47px;font-size:20px;color:#5a5a5a;font-weight:normal;left:142.00px;width:160px;text-align:center;">1</div>
<div class="t" style="top:782.89px;font-size:19.5px;color:#333;font-weight:bold;letter-spacing:1.55px;-webkit-text-stroke:0.5px #333;left:299.77px;width:120px;text-align:center;">32</div>
<div class="t" style="top:782.47px;font-size:20px;color:#5a5a5a;font-weight:normal;left:434.00px;width:160px;text-align:center;">13</div>
<div class="t" style="top:782.47px;font-size:20px;color:#5a5a5a;font-weight:normal;left:635.50px;width:160px;text-align:center;">197-204</div>
<div class="t" style="top:782.47px;font-size:20px;color:#5a5a5a;font-weight:normal;left:867.00px;width:160px;text-align:center;">74.5</div>
<div class="t" style="top:818.47px;font-size:20px;color:#5a5a5a;font-weight:normal;left:142.00px;width:160px;text-align:center;">2</div>
<div class="t" style="top:818.89px;font-size:19.5px;color:#333;font-weight:bold;letter-spacing:1.55px;-webkit-text-stroke:0.5px #333;left:299.77px;width:120px;text-align:center;">33.5</div>
<div class="t" style="top:818.47px;font-size:20px;color:#5a5a5a;font-weight:normal;left:434.00px;width:160px;text-align:center;">1</div>
<div class="t" style="top:818.47px;font-size:20px;color:#5a5a5a;font-weight:normal;left:635.50px;width:160px;text-align:center;">205-213</div>
<div class="t" style="top:818.47px;font-size:20px;color:#5a5a5a;font-weight:normal;left:867.00px;width:160px;text-align:center;">76</div>
<div class="t" style="top:854.47px;font-size:20px;color:#5a5a5a;font-weight:normal;left:142.00px;width:160px;text-align:center;">3</div>
<div class="t" style="top:854.89px;font-size:19.5px;color:#333;font-weight:bold;letter-spacing:1.55px;-webkit-text-stroke:0.5px #333;left:299.77px;width:120px;text-align:center;">35</div>
<div class="t" style="top:854.47px;font-size:20px;color:#5a5a5a;font-weight:normal;left:434.00px;width:160px;text-align:center;">2</div>
<div class="t" style="top:854.47px;font-size:20px;color:#5a5a5a;font-weight:normal;left:635.50px;width:160px;text-align:center;">214-221</div>
<div class="t" style="top:854.47px;font-size:20px;color:#5a5a5a;font-weight:normal;left:867.00px;width:160px;text-align:center;">77.5</div>
<div class="t" style="top:890.47px;font-size:20px;color:#5a5a5a;font-weight:normal;left:142.00px;width:160px;text-align:center;">4</div>
<div class="t" style="top:890.89px;font-size:19.5px;color:#333;font-weight:bold;letter-spacing:1.55px;-webkit-text-stroke:0.5px #333;left:299.77px;width:120px;text-align:center;">36</div>
<div class="t" style="top:890.47px;font-size:20px;color:#5a5a5a;font-weight:normal;left:434.00px;width:160px;text-align:center;">3</div>
<div class="t" style="top:890.47px;font-size:20px;color:#5a5a5a;font-weight:normal;left:635.50px;width:160px;text-align:center;">222-230</div>
<div class="t" style="top:890.47px;font-size:20px;color:#5a5a5a;font-weight:normal;left:867.00px;width:160px;text-align:center;">79</div>
<div class="t" style="top:926.47px;font-size:20px;color:#5a5a5a;font-weight:normal;left:142.00px;width:160px;text-align:center;">5</div>
<div class="t" style="top:926.89px;font-size:19.5px;color:#333;font-weight:bold;letter-spacing:1.55px;-webkit-text-stroke:0.5px #333;left:299.77px;width:120px;text-align:center;">37.5</div>
<div class="t" style="top:926.47px;font-size:20px;color:#5a5a5a;font-weight:normal;left:434.00px;width:160px;text-align:center;">4</div>
<div class="t" style="top:926.47px;font-size:20px;color:#5a5a5a;font-weight:normal;left:635.50px;width:160px;text-align:center;">231-238</div>
<div class="t" style="top:926.47px;font-size:20px;color:#5a5a5a;font-weight:normal;left:867.00px;width:160px;text-align:center;">81</div>
<div class="t" style="top:962.47px;font-size:20px;color:#5a5a5a;font-weight:normal;left:142.00px;width:160px;text-align:center;">6</div>
<div class="t" style="top:962.89px;font-size:19.5px;color:#333;font-weight:bold;letter-spacing:1.55px;-webkit-text-stroke:0.5px #333;left:299.77px;width:120px;text-align:center;">38.5</div>
<div class="t" style="top:962.47px;font-size:20px;color:#5a5a5a;font-weight:normal;left:434.00px;width:160px;text-align:center;">5</div>
<div class="t" style="top:962.47px;font-size:20px;color:#5a5a5a;font-weight:normal;left:635.50px;width:160px;text-align:center;">239-247</div>
<div class="t" style="top:962.47px;font-size:20px;color:#5a5a5a;font-weight:normal;left:867.00px;width:160px;text-align:center;">83</div>
<div class="t" style="top:998.47px;font-size:20px;color:#5a5a5a;font-weight:normal;left:142.00px;width:160px;text-align:center;">7</div>
<div class="t" style="top:998.89px;font-size:19.5px;color:#333;font-weight:bold;letter-spacing:1.55px;-webkit-text-stroke:0.5px #333;left:299.77px;width:120px;text-align:center;">40</div>
<div class="t" style="top:998.47px;font-size:20px;color:#5a5a5a;font-weight:normal;left:434.00px;width:160px;text-align:center;">6</div>
<div class="t" style="top:998.47px;font-size:20px;color:#5a5a5a;font-weight:normal;left:635.50px;width:160px;text-align:center;">248-256</div>
<div class="t" style="top:998.47px;font-size:20px;color:#5a5a5a;font-weight:normal;left:867.00px;width:160px;text-align:center;">85</div>
<div class="t" style="top:512.66px;font-size:18px;color:#4a4a4a;font-weight:bold;letter-spacing:0.62px;-webkit-text-stroke:0.5px #4a4a4a;left:-7.84px;width:200px;text-align:center;">Kleinkinder</div>
<div class="t" style="top:534.36px;font-size:18px;color:#4a4a4a;font-weight:bold;letter-spacing:0.9099999999999999px;-webkit-text-stroke:0.5px #4a4a4a;left:-5.84px;width:200px;text-align:center;">(1-4 Jahre)</div>
<div class="t" style="top:731.56px;font-size:18px;color:#4a4a4a;font-weight:bold;letter-spacing:0.49000000000000005px;-webkit-text-stroke:0.5px #4a4a4a;left:-5.71px;width:200px;text-align:center;">Kleine Kinder</div>
<div class="t" style="top:753.56px;font-size:18px;color:#4a4a4a;font-weight:bold;letter-spacing:0.75px;-webkit-text-stroke:0.5px #4a4a4a;left:-5.62px;width:200px;text-align:center;">(4-7 Jahre)</div>
<div class="t" style="top:919.66px;font-size:18px;color:#4a4a4a;font-weight:bold;letter-spacing:0.21000000000000002px;-webkit-text-stroke:0.5px #4a4a4a;left:-8.24px;width:200px;text-align:center;">Grössere Kinder</div>
<div class="t" style="top:940.96px;font-size:18px;color:#4a4a4a;font-weight:bold;letter-spacing:0.76px;-webkit-text-stroke:0.5px #4a4a4a;left:-5.57px;width:200px;text-align:center;">(7-12 Jahre)</div>
<div class="t" style="top:1067.82px;font-size:19px;color:#4a4a4a;font-weight:normal;letter-spacing:-0.01px;left:1.20px;">Fußlängen werden in Millimetern angegeben. Es wird empfohlen, die passende Größe auf der tatsächlichen Fußlänge basierend</div>
<div class="t" style="top:1089.12px;font-size:19px;color:#4a4a4a;font-weight:normal;letter-spacing:-0.1px;left:1.70px;">auszuwählen, da Schuhgrößen je nach Hersteller variieren können.</div>
</body></html>
